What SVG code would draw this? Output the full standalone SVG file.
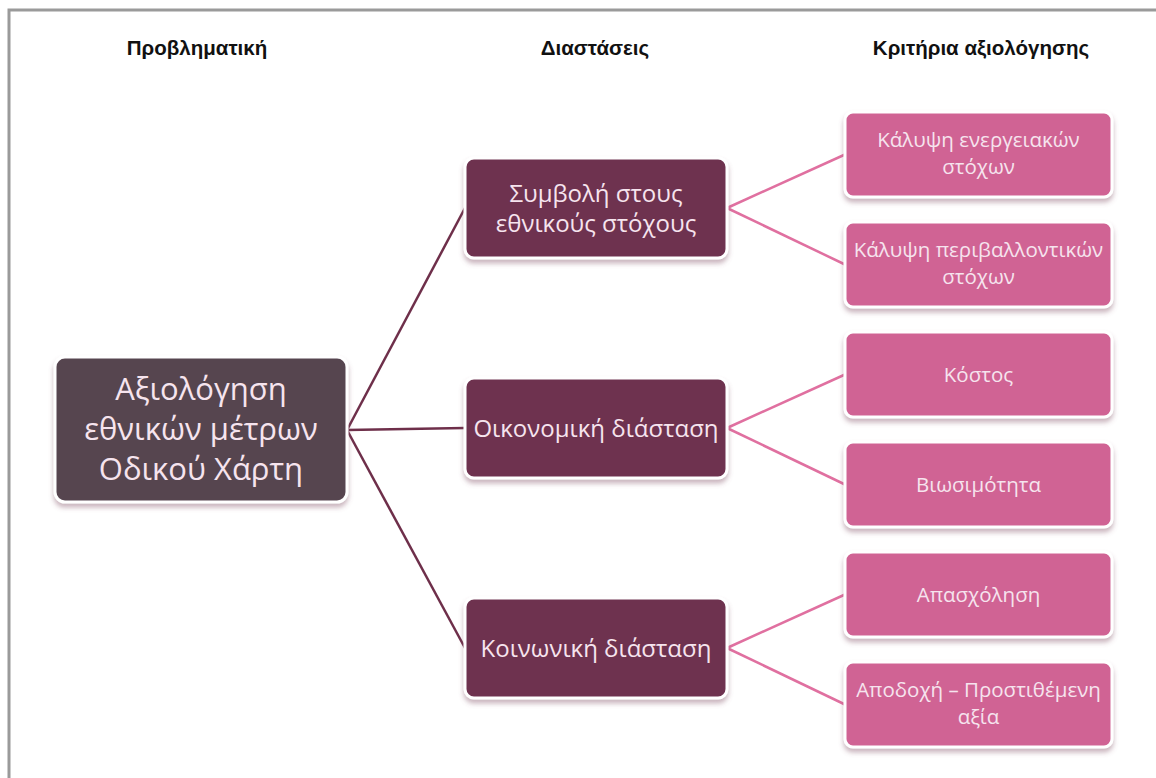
<svg xmlns="http://www.w3.org/2000/svg" width="1156" height="778" viewBox="0 0 1156 778">
  <defs>
    <filter id="sh" x="-10%" y="-10%" width="120%" height="130%">
      <feDropShadow dx="0" dy="4" stdDeviation="2.5" flood-color="#8a5a70" flood-opacity="0.45"/>
    </filter>
  </defs>
  <style>
    .hdr { font-family: "Liberation Sans", Arial, sans-serif; font-weight: bold; font-size: 20.5px; fill: #111; text-anchor: middle; }
    .box { stroke: #ffffff; stroke-width: 3; filter: url(#sh); }
    .root { fill: #574550; }
    .mid { fill: #6e3350; }
    .leaf { fill: #d06494; }
    .t { font-family: "Open Sans", "Noto Sans", "DejaVu Sans", sans-serif; text-anchor: middle; fill: #f6e4ee; }
    .tr { font-size: 31px; }
    .tm { font-size: 24px; }
    .tl { font-size: 20.5px; }
    .c1 { stroke: #6e2f4a; stroke-width: 2.5; fill: none; }
    .c2 { stroke: #e070a0; stroke-width: 2.5; fill: none; }
  </style>
  <rect x="0" y="0" width="1156" height="778" fill="#ffffff"/>
  <path d="M9 778 V10 H1156" fill="none" stroke="#9a9a9a" stroke-width="3"/>

  <g id="headers">
    <text class="hdr" x="197" y="55">Προβληματική</text>
    <text class="hdr" x="595" y="55">Διαστάσεις</text>
    <text class="hdr" x="981" y="55">Κριτήρια αξιολόγησης</text>
  </g>

  <g id="connectors">
    <line class="c1" x1="347" y1="430" x2="465" y2="208"/>
    <line class="c1" x1="347" y1="430" x2="465" y2="428"/>
    <line class="c1" x1="347" y1="430" x2="465" y2="648"/>
    <line class="c2" x1="727" y1="208" x2="845" y2="154.5"/>
    <line class="c2" x1="727" y1="208" x2="845" y2="264.5"/>
    <line class="c2" x1="727" y1="428" x2="845" y2="374.5"/>
    <line class="c2" x1="727" y1="428" x2="845" y2="484.5"/>
    <line class="c2" x1="727" y1="648" x2="845" y2="594.5"/>
    <line class="c2" x1="727" y1="648" x2="845" y2="704.5"/>
  </g>

  <g id="root">
    <rect class="box root" x="55" y="357" width="292" height="145" rx="10"/>
    <text class="t tr" x="201" y="400">Αξιολόγηση</text>
    <text class="t tr" x="201" y="440">εθνικών μέτρων</text>
    <text class="t tr" x="201" y="480">Οδικού Χάρτη</text>
  </g>

  <g id="dim1">
    <rect class="box mid" x="465" y="158" width="262" height="100" rx="9"/>
    <text class="t tm" x="596" y="202">Συμβολή στους</text>
    <text class="t tm" x="596" y="232">εθνικούς στόχους</text>
  </g>
  <g id="dim2">
    <rect class="box mid" x="465" y="378" width="262" height="100" rx="9"/>
    <text class="t tm" x="596" y="437">Οικονομική διάσταση</text>
  </g>
  <g id="dim3">
    <rect class="box mid" x="465" y="598" width="262" height="100" rx="9"/>
    <text class="t tm" x="596" y="657">Κοινωνική διάσταση</text>
  </g>

  <g id="crit1">
    <rect class="box leaf" x="845" y="112" width="267" height="85" rx="8"/>
    <text class="t tl" x="978.5" y="147">Κάλυψη ενεργειακών</text>
    <text class="t tl" x="978.5" y="174">στόχων</text>
  </g>
  <g id="crit2">
    <rect class="box leaf" x="845" y="222" width="267" height="85" rx="8"/>
    <text class="t tl" x="978.5" y="257">Κάλυψη περιβαλλοντικών</text>
    <text class="t tl" x="978.5" y="284">στόχων</text>
  </g>
  <g id="crit3">
    <rect class="box leaf" x="845" y="332" width="267" height="85" rx="8"/>
    <text class="t tl" x="978.5" y="382">Κόστος</text>
  </g>
  <g id="crit4">
    <rect class="box leaf" x="845" y="442" width="267" height="85" rx="8"/>
    <text class="t tl" x="978.5" y="492">Βιωσιμότητα</text>
  </g>
  <g id="crit5">
    <rect class="box leaf" x="845" y="552" width="267" height="85" rx="8"/>
    <text class="t tl" x="978.5" y="602">Απασχόληση</text>
  </g>
  <g id="crit6">
    <rect class="box leaf" x="845" y="662" width="267" height="85" rx="8"/>
    <text class="t tl" x="978.5" y="697">Αποδοχή – Προστιθέμενη</text>
    <text class="t tl" x="978.5" y="724">αξία</text>
  </g>
</svg>
